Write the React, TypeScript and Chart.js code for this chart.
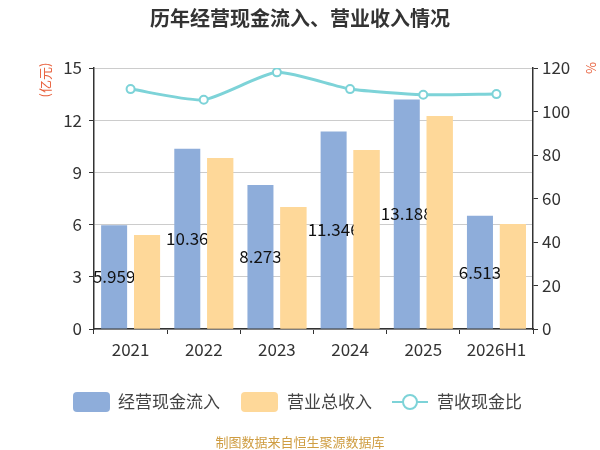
import { useEffect, useRef } from "react"
import { Chart, registerables } from "chart.js"

Chart.register(...registerables)

const FONT = '"Noto Sans CJK SC", "Noto Sans", sans-serif'

const categories = ["2021", "2022", "2023", "2024", "2025", "2026H1"]
const cashInflow = [5.959, 10.36, 8.273, 11.346, 13.188, 6.513]
const revenue = [5.4, 9.83, 7.01, 10.29, 12.24, 6.03]
const cashRatio = [110.3, 105.4, 118.0, 110.3, 107.7, 108.0]
const seriesNames = ["经营现金流入", "营业总收入", "营收现金比"]
const barColors = ["#8eadda", "#fed899"]
const lineColor = "#7dd3d8"

// value labels on the blue bars, then the orange bars are painted again over them
const barLabels = {
  id: "barLabels",
  afterDatasetDraw(chart: any, args: any) {
    if (args.index !== 0) return
    const ctx = chart.ctx
    ctx.save()
    ctx.font = `17px ${FONT}`
    ctx.fillStyle = "#111"
    ctx.textAlign = "center"
    ctx.textBaseline = "middle"
    args.meta.data.forEach((el: any, i: number) => {
      ctx.fillText(String(cashInflow[i]), el.x, (el.y + el.base) / 2)
    })
    ctx.restore()
    chart.getDatasetMeta(1).controller.draw()
  },
}

const decorations = {
  id: "decorations",
  afterDraw(chart: any) {
    const ctx = chart.ctx
    ctx.save()
    // title
    ctx.font = `bold 20px ${FONT}`
    ctx.fillStyle = "#333"
    ctx.textAlign = "center"
    ctx.textBaseline = "middle"
    ctx.fillText("历年经营现金流入、营业收入情况", 300, 18)

    // unit labels
    ctx.font = `13px ${FONT}`
    ctx.fillStyle = "#e8603c"
    ctx.save()
    ctx.translate(45, 80)
    ctx.rotate(-Math.PI / 2)
    ctx.fillText("(亿元)", 0, 0)
    ctx.restore()
    ctx.save()
    ctx.translate(591, 68)
    ctx.rotate(Math.PI / 2)
    ctx.fillText("%", 0, 0)
    ctx.restore()

    // legend
    const ly = 402
    ctx.font = `17px ${FONT}`
    ctx.textAlign = "left"
    const drawBox = (x: number, color: string) => {
      ctx.fillStyle = color
      ctx.beginPath()
      ctx.roundRect(x, ly - 10, 37, 20, 4)
      ctx.fill()
    }
    drawBox(73, barColors[0])
    ctx.fillStyle = "#444"
    ctx.fillText(seriesNames[0], 118, ly)
    drawBox(241, barColors[1])
    ctx.fillStyle = "#444"
    ctx.fillText(seriesNames[1], 287, ly)
    ctx.strokeStyle = lineColor
    ctx.lineWidth = 2
    ctx.beginPath()
    ctx.moveTo(392, ly)
    ctx.lineTo(428, ly)
    ctx.stroke()
    ctx.beginPath()
    ctx.arc(410, ly, 7, 0, Math.PI * 2)
    ctx.fillStyle = "#fff"
    ctx.fill()
    ctx.stroke()
    ctx.fillStyle = "#444"
    ctx.fillText(seriesNames[2], 437, ly)

    // source
    ctx.font = `13px ${FONT}`
    ctx.fillStyle = "#cf9d42"
    ctx.textAlign = "center"
    ctx.fillText("制图数据来自恒生聚源数据库", 300, 442)
    ctx.restore()
  },
}

export default function App() {
  const chartRef = useRef<HTMLCanvasElement>(null)
  const chartInstance = useRef<Chart | null>(null)

  useEffect(() => {
    if (!chartRef.current) return
    if (chartInstance.current) chartInstance.current.destroy()
    const ctx = chartRef.current.getContext("2d")
    if (!ctx) return

    chartInstance.current = new Chart(ctx, {
      type: "bar",
      data: {
        labels: categories,
        datasets: [
          {
            label: seriesNames[0],
            data: cashInflow,
            backgroundColor: barColors[0],
            yAxisID: "y",
            categoryPercentage: 0.9,
            barPercentage: 0.79,
          },
          {
            label: seriesNames[1],
            data: revenue,
            backgroundColor: barColors[1],
            yAxisID: "y",
            categoryPercentage: 0.9,
            barPercentage: 0.79,
          },
          {
            type: "line",
            label: seriesNames[2],
            data: cashRatio,
            borderColor: lineColor,
            borderWidth: 3,
            pointRadius: 4,
            pointBorderWidth: 2,
            pointBackgroundColor: "#fff",
            pointBorderColor: lineColor,
            tension: 0.2,
            yAxisID: "y1",
            order: -1,
          } as any,
        ],
      },
      options: {
        animation: false,
        responsive: false,
        layout: { padding: { top: 68, left: 0, right: 0, bottom: 0 } },
        plugins: {
          legend: { display: false },
          title: { display: false },
          tooltip: { enabled: false },
        },
        scales: {
          x: {
            grid: { offset: true, drawOnChartArea: false, tickLength: 5, color: "#333" },
            border: { color: "#333", width: 1.5 },
            ticks: { font: { family: FONT, size: 17 }, color: "#333", padding: 5 },
            afterFit: (s: any) => {
              s.height = 121
            },
          },
          y: {
            position: "left",
            min: 0,
            max: 15,
            ticks: { stepSize: 3, font: { family: FONT, size: 17 }, color: "#333", padding: 7 },
            grid: { color: "#ccc", tickLength: 5, tickColor: "#333" },
            border: { color: "#333", width: 1.5 },
            afterFit: (s: any) => {
              s.width = 94
            },
          },
          y1: {
            position: "right",
            min: 0,
            max: 120,
            ticks: { stepSize: 20, font: { family: FONT, size: 17 }, color: "#333", padding: 4 },
            grid: { drawOnChartArea: false, tickLength: 5, color: "#333" },
            border: { color: "#333", width: 1.5 },
            afterFit: (s: any) => {
              s.width = 67
            },
          },
        },
      },
      plugins: [barLabels, decorations],
    })

    return () => {
      if (chartInstance.current) {
        chartInstance.current.destroy()
        chartInstance.current = null
      }
    }
  }, [])

  return (
    <div style={{ position: "absolute", left: 0, top: 0, width: 600, height: 450, background: "#fff" }}>
      <canvas ref={chartRef} width={600} height={450} />
    </div>
  )
}
